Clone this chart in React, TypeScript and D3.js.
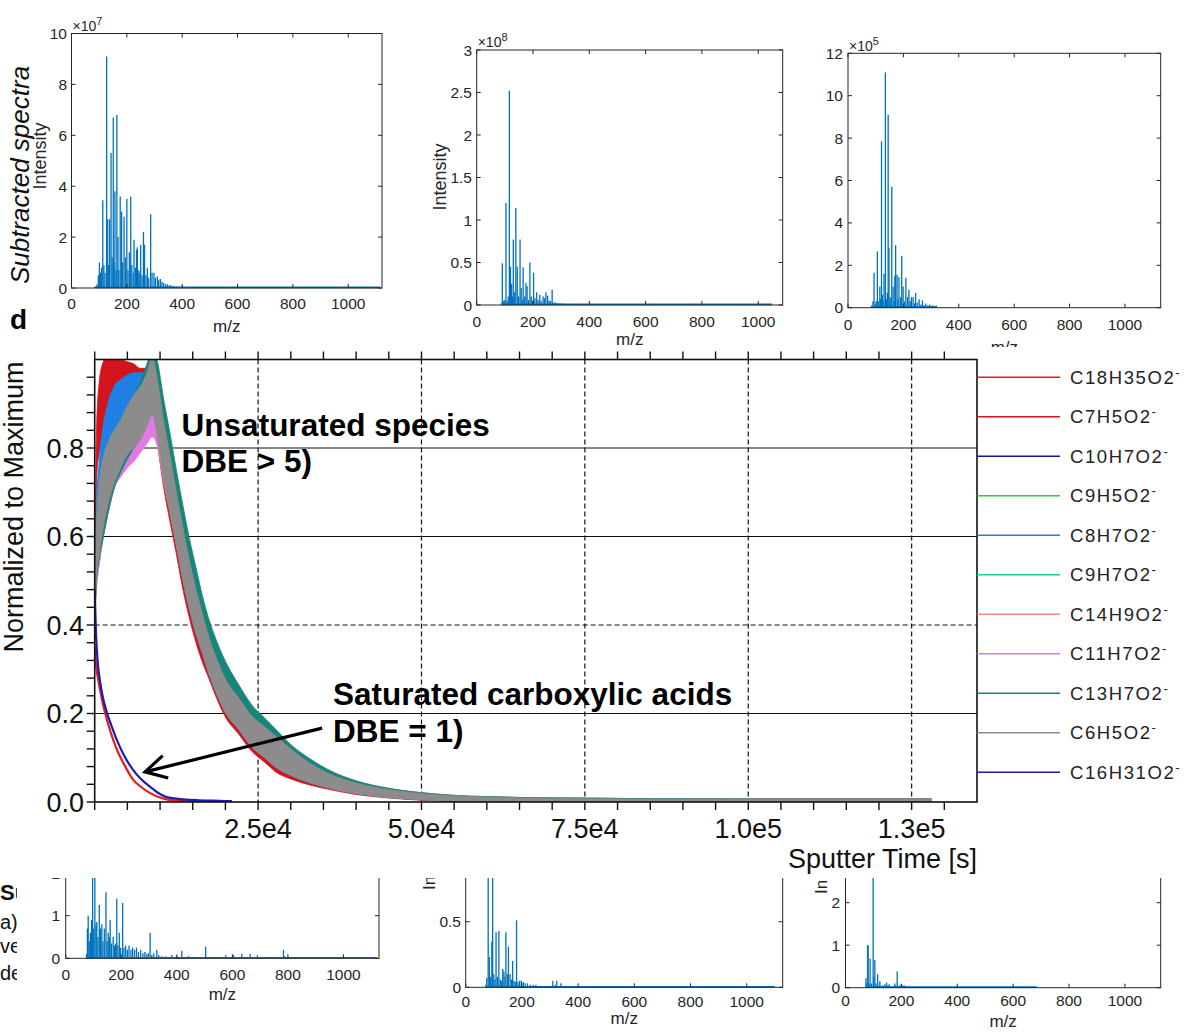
import React from 'react';
import * as d3 from 'd3';

const FONT = "'Liberation Sans', Arial, Helvetica, sans-serif";
const AXC = '#262626';
const SPEC_BLUE = '#0072BD';

// ================= Spectra data =================
const MZ_TICKS = [0, 200, 400, 600, 800, 1000];

// top-left (x1e7)
const T1_MZ = [85, 92, 97, 101, 105, 109, 113, 117, 121, 127, 131, 134, 138, 143, 147, 151, 154, 157, 161, 164, 168, 171, 176, 181, 185, 190, 195, 200, 204, 209, 214, 218, 223, 226, 231, 235, 238, 243, 247, 250, 255, 260, 264, 269, 274, 279, 286, 291, 298, 303, 310, 315, 321, 327, 333, 340, 347, 355, 362, 370, 380, 390, 400];
const T1_INT = [0.05, 0.15, 0.5, 1.0, 0.6, 0.8, 3.45, 0.9, 0.6, 9.1, 2.7, 0.9, 2.7, 5.3, 1.2, 6.7, 1.0, 3.8, 0.7, 6.8, 2.0, 0.7, 3.6, 3.0, 1.0, 2.8, 1.2, 3.5, 0.7, 1.4, 3.6, 0.9, 0.6, 1.9, 0.8, 1.5, 1.6, 0.7, 0.6, 1.7, 0.5, 2.2, 1.7, 0.5, 0.8, 0.4, 2.9, 0.6, 0.6, 0.4, 0.45, 0.3, 0.35, 0.25, 0.2, 0.15, 0.15, 0.12, 0.1, 0.08, 0.06, 0.05, 0.1];
const T1_RANGE = [85, 1115];
const T1_YTICKS = [0, 2, 4, 6, 8, 10];

// top-middle (x1e8)
const T2_MZ = [88, 91, 96, 100, 104, 108, 112, 116, 120, 124, 127, 130, 135, 139, 144, 149, 154, 158, 162, 165, 170, 175, 179, 184, 189, 194, 198, 202, 207, 213, 218, 224, 229, 236, 241, 246, 252, 257, 262, 268, 273, 279, 285, 292, 300, 310, 320, 330, 345, 360];
const T2_INT = [0.02, 0.49, 0.05, 0.06, 1.2, 0.05, 0.1, 2.52, 0.45, 0.25, 0.1, 0.77, 0.15, 1.14, 0.45, 0.1, 0.77, 0.2, 0.06, 0.44, 0.1, 0.26, 0.22, 0.06, 0.5, 0.1, 0.05, 0.38, 0.08, 0.15, 0.06, 0.12, 0.05, 0.1, 0.08, 0.15, 0.11, 0.05, 0.05, 0.18, 0.03, 0.03, 0.02, 0.02, 0.02, 0.015, 0.01, 0.01, 0.008, 0.005];
const T2_RANGE = [88, 1050];
const T2_YTICKS = [0, 0.5, 1, 1.5, 2, 2.5, 3];

// top-right (x1e5)
const T3_MZ = [85, 90, 94, 98, 102, 106, 111, 115, 118, 121, 124, 127, 130, 135, 139, 142, 145, 148, 152, 155, 158, 163, 166, 169, 172, 177, 181, 184, 190, 194, 199, 204, 209, 215, 220, 225, 229, 235, 240, 244, 250, 257, 263, 269, 275, 281, 288, 295, 301, 307, 313, 319];
const T3_INT = [0.1, 0.3, 1.65, 0.2, 0.3, 2.65, 0.3, 1.0, 0.4, 7.85, 0.6, 0.3, 1.6, 11.1, 0.4, 0.7, 9.1, 2.8, 0.5, 0.4, 5.7, 1.0, 0.3, 1.5, 2.95, 1.55, 0.4, 1.45, 0.5, 2.45, 1.0, 0.3, 1.4, 0.5, 0.85, 0.3, 0.5, 0.5, 0.2, 0.7, 0.25, 0.4, 0.15, 0.35, 0.12, 0.2, 0.1, 0.15, 0.08, 0.12, 0.06, 0.1];
const T3_RANGE = [85, 320];
const T3_YTICKS = [0, 2, 4, 6, 8, 10, 12];

// bottom-left
const B1_MZ = [75, 78, 81, 85, 89, 93, 97, 101, 105, 109, 112, 116, 121, 125, 130, 134, 139, 145, 149, 153, 157, 160, 165, 171, 176, 180, 184, 188, 193, 198, 205, 210, 216, 222, 228, 235, 241, 248, 255, 262, 270, 278, 285, 292, 298, 304, 310, 317, 328, 335, 345, 360, 382, 400, 418, 442, 470, 504, 540, 576, 604, 634, 664, 690, 720, 760, 784, 788, 830, 900, 1000];
const B1_INT = [0.1, 0.7, 1.0, 0.4, 0.6, 0.9, 2.5, 0.7, 2.3, 0.8, 0.85, 0.5, 1.25, 0.7, 0.8, 0.4, 0.7, 1.55, 0.4, 0.6, 0.5, 0.9, 0.35, 0.5, 0.3, 0.35, 1.4, 0.3, 0.6, 0.25, 1.3, 0.25, 0.3, 0.2, 0.3, 0.2, 0.25, 0.2, 0.25, 0.15, 0.2, 0.12, 0.15, 0.1, 0.12, 0.6, 0.08, 0.12, 0.2, 0.08, 0.05, 0.04, 0.08, 0.05, 0.18, 0.05, 0.03, 0.27, 0.02, 0.07, 0.08, 0.1, 0.1, 0.07, 0.03, 0.03, 0.2, 0.05, 0.02, 0.02, 0.02];
const B1_RANGE = [75, 1120];
const B1_YTICKS = [0, 1, 2];

// bottom-middle
const B2_MZ = [72, 75, 80, 84, 88, 93, 96, 100, 104, 108, 113, 118, 123, 128, 132, 136, 140, 143, 148, 152, 158, 163, 167, 172, 176, 181, 186, 192, 198, 205, 212, 220, 230, 240, 250, 262, 275, 290, 310, 318, 324, 332, 339, 360, 400];
const B2_INT = [0.02, 0.07, 1.2, 0.23, 0.08, 0.35, 1.2, 0.1, 0.06, 0.42, 0.08, 0.43, 0.06, 0.05, 0.14, 0.12, 0.08, 0.42, 0.1, 0.31, 0.1, 0.06, 0.2, 0.05, 0.04, 0.51, 0.04, 0.05, 0.05, 0.04, 0.03, 0.03, 0.02, 0.02, 0.02, 0.01, 0.01, 0.01, 0.05, 0.02, 0.05, 0.01, 0.03, 0.01, 0.01];
const B2_RANGE = [72, 1100];
const B2_YTICKS = [0, 0.5];

// bottom-right
const B3_MZ = [73, 76, 79, 81, 85, 88, 93, 99, 101, 105, 109, 115, 119, 123, 130, 135, 141, 147, 152, 156, 165, 176, 180, 185, 190, 194, 200, 206, 212, 220, 233, 245, 260];
const B3_INT = [0.22, 0.1, 1.0, 1.0, 0.1, 0.68, 0.1, 3.0, 0.25, 0.65, 0.1, 0.32, 0.05, 0.15, 0.05, 0.05, 0.08, 0.12, 0.05, 0.08, 0.03, 0.1, 0.05, 0.38, 0.03, 0.05, 0.08, 0.06, 0.05, 0.03, 0.03, 0.02, 0.01];
const B3_RANGE = [73, 684];
const B3_YTICKS = [0, 1, 2];

// ================= Depth profile data =================
const T_UNSAT = [0, 300, 700, 1200, 2000, 3000, 4000, 5000, 6000, 7000, 8000, 8800, 9600, 10500, 11500, 12500, 13500, 14500, 15500, 16500, 17500, 18500, 20000, 22000, 24000, 26000, 28000, 30000, 33000, 36000, 40000, 45000, 50000, 60000, 80000, 100000, 120000, 128000];
const NOISE = [0.03, 0.06, 0.08, 0.08, 0.07, 0.06, 0.055, 0.055, 0.06, 0.06, 0.06, 0.065, 0.065, 0.065, 0.065, 0.06, 0.06, 0.055, 0.05, 0.045, 0.042, 0.04, 0.038, 0.036, 0.035, 0.035, 0.035, 0.03, 0.022, 0.016, 0.012, 0.009, 0.007, 0.005, 0.004, 0.004, 0.004, 0.004];

const C7H5O2 = [0.45, 0.79, 0.87, 0.91, 0.94, 0.945, 0.945, 0.94, 0.93, 0.92, 0.92, 0.91, 0.87, 0.78, 0.70, 0.62, 0.54, 0.47, 0.41, 0.36, 0.32, 0.28, 0.23, 0.19, 0.15, 0.125, 0.10, 0.082, 0.06, 0.044, 0.029, 0.018, 0.011, 0.005, 0.003, 0.002, 0.002, 0.002];
const C10H7O2 = [0.45, 0.57, 0.64, 0.69, 0.74, 0.78, 0.81, 0.84, 0.86, 0.88, 0.91, 0.93, 0.90, 0.81, 0.73, 0.65, 0.57, 0.50, 0.44, 0.39, 0.34, 0.30, 0.245, 0.20, 0.162, 0.136, 0.111, 0.091, 0.066, 0.048, 0.032, 0.02, 0.013, 0.006, 0.004, 0.003, 0.003, 0.003];
const C9H5O2 = [0.45, 0.56, 0.62, 0.67, 0.72, 0.77, 0.80, 0.83, 0.85, 0.87, 0.90, 0.92, 0.90, 0.82, 0.74, 0.66, 0.58, 0.51, 0.45, 0.40, 0.35, 0.31, 0.255, 0.21, 0.17, 0.14, 0.115, 0.095, 0.07, 0.05, 0.034, 0.021, 0.014, 0.007, 0.004, 0.003, 0.003, 0.003];
const C8H7O2 = [0.45, 0.62, 0.69, 0.76, 0.83, 0.88, 0.90, 0.91, 0.91, 0.91, 0.91, 0.91, 0.88, 0.80, 0.72, 0.64, 0.56, 0.49, 0.43, 0.38, 0.33, 0.29, 0.24, 0.20, 0.16, 0.135, 0.11, 0.09, 0.065, 0.047, 0.031, 0.019, 0.012, 0.006, 0.003, 0.002, 0.002, 0.002];
const C9H7O2 = [0.45, 0.57, 0.64, 0.69, 0.74, 0.78, 0.80, 0.82, 0.85, 0.88, 0.91, 0.93, 0.90, 0.81, 0.73, 0.65, 0.57, 0.50, 0.44, 0.39, 0.34, 0.30, 0.25, 0.205, 0.165, 0.138, 0.112, 0.092, 0.067, 0.048, 0.032, 0.02, 0.013, 0.006, 0.004, 0.003, 0.003, 0.003];
const C14H9O2 = [0.45, 0.55, 0.62, 0.67, 0.72, 0.77, 0.80, 0.82, 0.84, 0.86, 0.88, 0.90, 0.87, 0.79, 0.72, 0.64, 0.57, 0.50, 0.44, 0.39, 0.34, 0.30, 0.25, 0.205, 0.165, 0.14, 0.115, 0.093, 0.068, 0.05, 0.033, 0.02, 0.013, 0.006, 0.004, 0.003, 0.003, 0.003];
const C11H7O2 = [0.45, 0.55, 0.62, 0.67, 0.72, 0.77, 0.79, 0.81, 0.83, 0.85, 0.87, 0.89, 0.87, 0.80, 0.73, 0.65, 0.58, 0.51, 0.45, 0.40, 0.35, 0.31, 0.255, 0.21, 0.17, 0.142, 0.117, 0.095, 0.07, 0.05, 0.034, 0.021, 0.014, 0.007, 0.004, 0.003, 0.003, 0.003];
const C13H7O2 = [0.45, 0.56, 0.63, 0.67, 0.72, 0.77, 0.80, 0.83, 0.86, 0.89, 0.93, 0.96, 0.93, 0.85, 0.77, 0.69, 0.61, 0.54, 0.48, 0.42, 0.37, 0.33, 0.28, 0.23, 0.185, 0.155, 0.125, 0.10, 0.075, 0.055, 0.036, 0.022, 0.014, 0.007, 0.004, 0.003, 0.003, 0.003];
const C6H5O2 = [0.45, 0.57, 0.64, 0.69, 0.74, 0.78, 0.81, 0.84, 0.86, 0.88, 0.91, 0.94, 0.89, 0.80, 0.72, 0.64, 0.56, 0.49, 0.43, 0.38, 0.33, 0.29, 0.24, 0.20, 0.16, 0.135, 0.11, 0.09, 0.065, 0.047, 0.031, 0.019, 0.012, 0.006, 0.003, 0.002, 0.002, 0.002];

const T_SAT = [0, 200, 500, 800, 1200, 1800, 2500, 3400, 4500, 5900, 7000, 8500, 10000, 11000, 13600, 16000, 18000, 21000];
const C18H35O2 = [0.35, 0.31, 0.28, 0.255, 0.225, 0.19, 0.155, 0.118, 0.085, 0.05, 0.035, 0.02, 0.01, 0.006, 0.002, 0.001, 0.001, 0.001];
const C16H31O2 = [0.48, 0.38, 0.31, 0.275, 0.24, 0.205, 0.175, 0.14, 0.105, 0.072, 0.053, 0.034, 0.018, 0.011, 0.006, 0.004, 0.003, 0.002];

const SPECIES = ['C18H35O2', 'C7H5O2', 'C10H7O2', 'C9H5O2', 'C8H7O2', 'C9H7O2', 'C14H9O2', 'C11H7O2', 'C13H7O2', 'C6H5O2', 'C16H31O2'];
const SPECIES_KIND = ['sat', 'unsat', 'unsat', 'unsat', 'unsat', 'unsat', 'unsat', 'unsat', 'unsat', 'unsat', 'sat'];
const SPECIES_VALUES = [C18H35O2, C7H5O2, C10H7O2, C9H5O2, C8H7O2, C9H7O2, C14H9O2, C11H7O2, C13H7O2, C6H5O2, C16H31O2];
const SPECIES_COLORS = ['#e41e1e', '#d4141c', '#16168c', '#2bd02b', '#1f80e6', '#1fd08a', '#f08a8a', '#e07ae4', '#17857a', '#8c8c8c', '#1c1cb0'];

const X_TICKS_MAJOR = [25000, 50000, 75000, 100000, 125000];
const X_TICK_LABELS = ['2.5e4', '5.0e4', '7.5e4', '1.0e5', '1.3e5'];
const Y_TICKS_MAJOR = [0, 0.2, 0.4, 0.6, 0.8];
const Y_TICK_LABELS = ['0.0', '0.2', '0.4', '0.6', '0.8'];
const Y_GRID_STYLE = ['none', 'solid', 'dash', 'solid', 'solid'];

type SpecProps = {
  left: number; right: number; top: number; bottom: number; xMax: number; yMax: number;
  mz: number[]; val: number[]; range: number[]; yTicks: number[];
  xtickY: number; xlabelY: number; ytickX: number;
  exp?: string; expY?: number;
  ylabel?: { x: number; y: number; anchor: string; size: number; text: string };
};

function Spectrum(p: SpecProps) {
  const x = d3.scaleLinear().domain([0, p.xMax]).range([p.left, p.right]);
  const y = d3.scaleLinear().domain([0, p.yMax]).range([p.bottom, p.top]);
  const tl = 4;
  return (
    <g fontFamily={FONT}>
      <line x1={x(p.range[0])} x2={x(p.range[1])} y1={y(0) - 0.6} y2={y(0) - 0.6} stroke={SPEC_BLUE} strokeWidth={1.6} />
      {p.mz.map((m, i) => (
        <line key={i} x1={x(m)} x2={x(m)} y1={y(0)} y2={y(Math.min(p.val[i], p.yMax))} stroke={SPEC_BLUE} strokeWidth={1.3} />
      ))}
      <rect x={p.left} y={p.top} width={p.right - p.left} height={p.bottom - p.top} fill="none" stroke={AXC} strokeWidth={1} />
      {MZ_TICKS.map((t) => (
        <g key={'x' + t}>
          <line x1={x(t)} x2={x(t)} y1={p.bottom} y2={p.bottom - tl} stroke={AXC} />
          <line x1={x(t)} x2={x(t)} y1={p.top} y2={p.top + tl} stroke={AXC} />
          <text x={x(t)} y={p.xtickY} textAnchor="middle" fontSize={15.5} fill={AXC}>{t}</text>
        </g>
      ))}
      {p.yTicks.map((v) => (
        <g key={'y' + v}>
          <line x1={p.left} x2={p.left + tl} y1={y(v)} y2={y(v)} stroke={AXC} />
          <line x1={p.right} x2={p.right - tl} y1={y(v)} y2={y(v)} stroke={AXC} />
          <text x={p.ytickX} y={y(v) + 5.5} textAnchor="end" fontSize={15.5} fill={AXC}>{String(v)}</text>
        </g>
      ))}
      <text x={(p.left + p.right) / 2} y={p.xlabelY} textAnchor="middle" fontSize={17} fill={AXC}>m/z</text>
      {p.exp && (
        <text x={p.left + 1} y={p.expY} fontSize={14} fill={AXC}>
          ×10<tspan dy={-6} fontSize={11}>{p.exp}</tspan>
        </text>
      )}
      {p.ylabel && (
        <text transform={`translate(${p.ylabel.x},${p.ylabel.y}) rotate(-90)`} textAnchor={p.ylabel.anchor as any} fontSize={p.ylabel.size} fill={AXC}>{p.ylabel.text}</text>
      )}
    </g>
  );
}

function DepthProfile() {
  const x = d3.scaleLinear().domain([0, 135000]).range([94.7, 977]);
  const y = d3.scaleLinear().domain([0, 1]).range([802, 359.5]);
  const [x0, x1] = x.range();
  const [yb, yt] = y.range();

  const band = (vals: number[]) =>
    d3.area<number>()
      .x((_, i) => x(T_UNSAT[i]))
      .y0((v, i) => y(Math.max(0, v - NOISE[i])))
      .y1((v, i) => y(Math.min(1.02, v + NOISE[i])))
      .curve(d3.curveMonotoneX)(vals) as string;
  const satLine = (vals: number[]) =>
    d3.line<number>().x((_, i) => x(T_SAT[i])).y((v) => y(v)).curve(d3.curveMonotoneX)(vals) as string;

  const minorX = d3.range(0, 27).map((i) => i * 5000);
  const minorY = d3.range(0, 25).map((i) => i * 0.04);

  // arrow (data coordinates)
  const tail = [x(34800), y(0.167)];
  const head = [x(7700), y(0.068)];
  const ang = Math.atan2(tail[1] - head[1], tail[0] - head[0]);
  const L = 24;
  const h1 = [head[0] + L * Math.cos(ang - 0.5), head[1] + L * Math.sin(ang - 0.5)];
  const h2 = [head[0] + L * Math.cos(ang + 0.5), head[1] + L * Math.sin(ang + 0.5)];

  const legendY = (i: number) => 377.3 + i * 39.5;

  return (
    <g fontFamily={FONT}>
      <defs>
        <clipPath id="plotClip">
          <rect x={x0} y={yt} width={x1 - x0} height={yb - yt} />
        </clipPath>
      </defs>
      {/* grid */}
      {Y_TICKS_MAJOR.map((v, i) =>
        Y_GRID_STYLE[i] === 'none' ? null : (
          <line key={'g' + v} x1={x0} x2={x1} y1={y(v)} y2={y(v)} stroke="#111" strokeWidth={1.2}
            strokeDasharray={Y_GRID_STYLE[i] === 'dash' ? '5,3' : undefined} />
        )
      )}
      {X_TICKS_MAJOR.map((t) => (
        <line key={'gx' + t} x1={x(t)} x2={x(t)} y1={yt} y2={yb} stroke="#111" strokeWidth={1.2} strokeDasharray="5,3" />
      ))}
      {/* series */}
      <g clipPath="url(#plotClip)">
        {SPECIES.map((s, i) =>
          SPECIES_KIND[i] === 'unsat' ? (
            <path key={s} d={band(SPECIES_VALUES[i])} fill={SPECIES_COLORS[i]} stroke={SPECIES_COLORS[i]} strokeWidth={0.8} />
          ) : (
            <path key={s} d={satLine(SPECIES_VALUES[i])} fill="none" stroke={SPECIES_COLORS[i]} strokeWidth={2.2} />
          )
        )}
      </g>
      {/* axes box */}
      <rect x={x0} y={yt} width={x1 - x0} height={yb - yt} fill="none" stroke="#111" strokeWidth={1.6} />
      {minorX.map((t) => (
        <g key={'mx' + t}>
          <line x1={x(t)} x2={x(t)} y1={yb} y2={yb + 8} stroke="#111" strokeWidth={1.4} />
          <line x1={x(t)} x2={x(t)} y1={yt} y2={yt - 8} stroke="#111" strokeWidth={1.4} />
        </g>
      ))}
      {minorY.map((v) => (
        <line key={'my' + v} x1={x0} x2={x0 - 8} y1={y(v)} y2={y(v)} stroke="#111" strokeWidth={1.4} />
      ))}
      {Y_TICKS_MAJOR.map((v, i) => (
        <text key={'yl' + v} x={84} y={y(v) + 9.5} textAnchor="end" fontSize={27} fill="#111">{Y_TICK_LABELS[i]}</text>
      ))}
      {X_TICKS_MAJOR.map((t, i) => (
        <text key={'xl' + t} x={x(t)} y={838} textAnchor="middle" fontSize={27} fill="#111">{X_TICK_LABELS[i]}</text>
      ))}
      <text x={x1} y={868} textAnchor="end" fontSize={27} fill="#111">Sputter Time [s]</text>
      <text transform={`translate(23,507) rotate(-90)`} textAnchor="middle" fontSize={27} fill="#111">Normalized to Maximum</text>

      {/* annotations */}
      <text x={x(13300)} y={y(0.828)} fontSize={31.5} fontWeight="bold" fill="#000">Unsaturated species</text>
      <text x={x(13300)} y={y(0.746)} fontSize={31.5} fontWeight="bold" fill="#000">DBE &gt; 5)</text>
      <text x={x(36460)} y={y(0.219)} fontSize={31.5} fontWeight="bold" fill="#000">Saturated carboxylic acids</text>
      <text x={x(36460)} y={y(0.136)} fontSize={31.5} fontWeight="bold" fill="#000">DBE = 1)</text>
      <line x1={tail[0]} y1={tail[1]} x2={head[0]} y2={head[1]} stroke="#000" strokeWidth={3.2} />
      <polyline points={`${h1[0]},${h1[1]} ${head[0]},${head[1]} ${h2[0]},${h2[1]}`} fill="none" stroke="#000" strokeWidth={3.2} />

      {/* legend */}
      {SPECIES.map((s, i) => (
        <g key={'lg' + s}>
          <line x1={x1} x2={1060} y1={legendY(i)} y2={legendY(i)} stroke={SPECIES_COLORS[i]} strokeWidth={1.6} />
          <text x={1070} y={legendY(i) + 6.5} fontSize={18.5} letterSpacing={1.6} fill="#222">
            {s}<tspan dy={-7} fontSize={13}>-</tspan>
          </text>
        </g>
      ))}
    </g>
  );
}

export default function App() {
  return (
    <svg width={1194} height={1032} viewBox="0 0 1194 1032"
      style={{ position: 'absolute', left: 0, top: 0, background: '#fff', display: 'block' }}>
      <rect x={0} y={0} width={1194} height={1032} fill="#fff" />
      <defs>
        <clipPath id="bottomClip"><rect x={0} y={878} width={1194} height={154} /></clipPath>
        <clipPath id="capClip"><rect x={0} y={870} width={17} height={130} /></clipPath>
      </defs>
      {/* top spectra */}
      <Spectrum left={71.5} right={382} top={33.5} bottom={288} xMax={1122} yMax={10}
        mz={T1_MZ} val={T1_INT} range={T1_RANGE} yTicks={T1_YTICKS}
        xtickY={309} xlabelY={332} ytickX={67} exp="7" expY={31}
        ylabel={{ x: 46, y: 156, anchor: 'middle', size: 18, text: 'Intensity' }} />
      <text transform="translate(28.5,175) rotate(-90)" textAnchor="middle" fontFamily={FONT} fontStyle="italic" fontSize={26} fill="#111">Subtracted spectra</text>
      <Spectrum left={476.7} right={782.7} top={50} bottom={305} xMax={1087} yMax={3}
        mz={T2_MZ} val={T2_INT} range={T2_RANGE} yTicks={T2_YTICKS}
        xtickY={327} xlabelY={345} ytickX={472} exp="8" expY={47}
        ylabel={{ x: 446, y: 177, anchor: 'middle', size: 18, text: 'Intensity' }} />
      <Spectrum left={848} right={1160.7} top={53.3} bottom={307.7} xMax={1129} yMax={12}
        mz={T3_MZ} val={T3_INT} range={T3_RANGE} yTicks={T3_YTICKS}
        xtickY={330} xlabelY={353} ytickX={843} exp="5" expY={51} />
      {/* bottom spectra (tops hidden behind panel d) */}
      <g clipPath="url(#bottomClip)">
        <Spectrum left={65.7} right={379} top={851.8} bottom={958.3} xMax={1128} yMax={2.5}
          mz={B1_MZ} val={B1_INT} range={B1_RANGE} yTicks={B1_YTICKS}
          xtickY={980} xlabelY={1000} ytickX={60} />
        <Spectrum left={465.7} right={782.7} top={856.1} bottom={987.3} xMax={1128} yMax={1}
          mz={B2_MZ} val={B2_INT} range={B2_RANGE} yTicks={B2_YTICKS}
          xtickY={1007} xlabelY={1024} ytickX={461}
          ylabel={{ x: 435, y: 890, anchor: 'start', size: 17, text: 'In' }} />
        <Spectrum left={845.5} right={1160.7} top={860.2} bottom={987.7} xMax={1128} yMax={3}
          mz={B3_MZ} val={B3_INT} range={B3_RANGE} yTicks={B3_YTICKS}
          xtickY={1006} xlabelY={1027} ytickX={840}
          ylabel={{ x: 827, y: 894, anchor: 'start', size: 17, text: 'In' }} />
      </g>
      {/* caption fragments */}
      <g clipPath="url(#capClip)" fontFamily={FONT} fill="#111">
        <text x={0} y={900} fontSize={22} fontWeight="bold">Su</text>
        <text x={0} y={929} fontSize={20}>a)</text>
        <text x={0} y={953} fontSize={20}>ve</text>
        <text x={0} y={980} fontSize={20}>de</text>
      </g>
      {/* white background of panel d */}
      <rect x={0} y={347} width={1194} height={531} fill="#fff" />
      <text x={10} y={329} fontFamily={FONT} fontWeight="bold" fontSize={28} fill="#000">d</text>
      <DepthProfile />
    </svg>
  );
}
